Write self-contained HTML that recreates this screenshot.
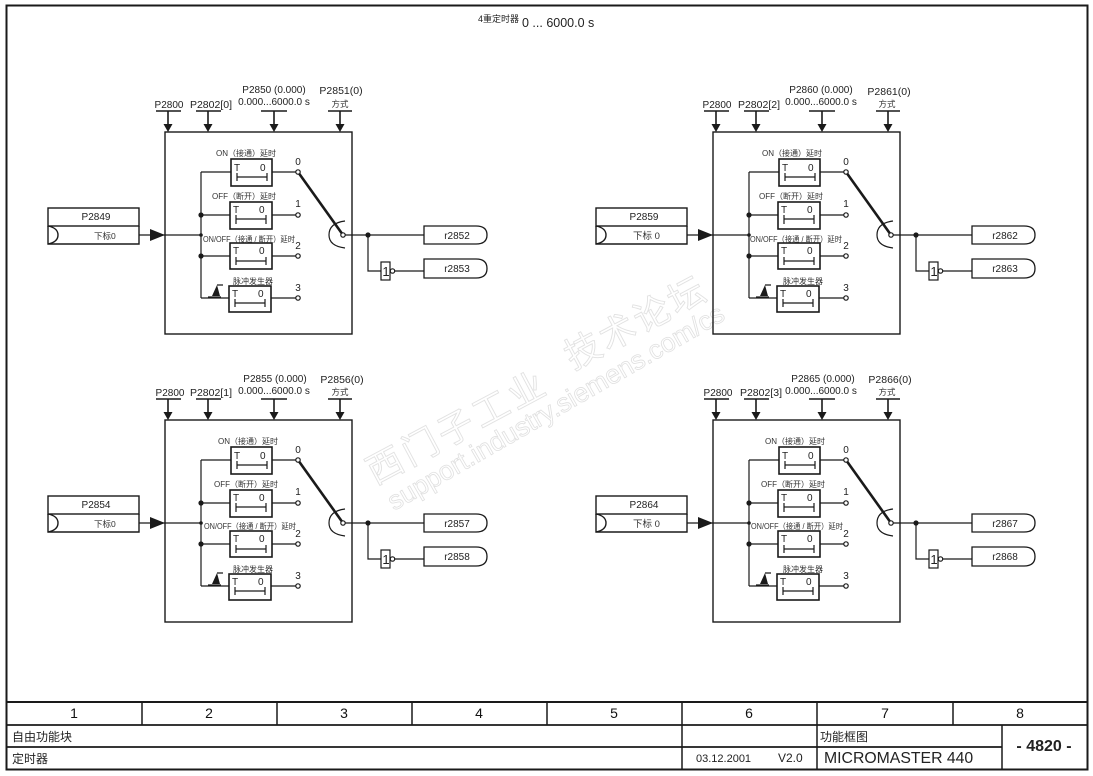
<!DOCTYPE html>
<html><head><meta charset="utf-8">
<style>
html,body{margin:0;padding:0;background:#fff}
svg{display:block}
text{font-family:"Liberation Sans","Noto Sans CJK SC",sans-serif;fill:#222;font-size:10px}
.c{text-anchor:middle}
.s{font-size:8.5px;fill:#333}
.l{font-size:8px;fill:#333}
.m{font-size:10px}
.p{font-size:10.5px}
.n{font-size:14px;fill:#111;text-anchor:middle}
.f{font-size:12px;fill:#222}
</style></head><body>
<svg width="1093" height="776" viewBox="0 0 1093 776" xmlns="http://www.w3.org/2000/svg">
<defs>
<g id="block" fill="none" stroke="#1a1a1a" stroke-width="1.2">
<rect x="165" y="132" width="187" height="202" stroke-width="1.4"/>
<g stroke-width="1.6">
<path d="M156 111H181M196 111H221M261 111H287M328 111H352"/>
<path d="M168 111V125M208 111V125M274 111V125M340 111V125"/>
</g>
<g fill="#1a1a1a" stroke="none">
<path d="M163.500 124H172.500L168 132ZM203.500 124H212.500L208 132ZM269.500 124H278.500L274 132ZM335.500 124H344.500L340 132Z"/>
<path d="M150 229L165 235L150 241Z"/>
<circle cx="201" cy="215" r="2.600"/><circle cx="201" cy="256" r="2.600"/><circle cx="201" cy="235" r="1.800"/><circle cx="368" cy="235" r="2.600"/>
<path d="M212 296L217 285L220 296Z"/>
</g>
<rect x="48" y="208" width="91" height="18" stroke-width="1.400"/>
<path d="M48 226V244H139V226" stroke-width="1.400"/>
<path d="M48 226Q58 228 58 235Q58 242 48 244" stroke-width="1.400"/>
<path d="M139 235H201M201 172V298M201 172H231M201 215H230M201 256H230M201 298H229M272 172H296M272 215H296M272 256H296M271 298H296"/>
<path d="M208 297H221M217 285H223"/>
<g stroke-width="1.600" fill="#fff">
<rect x="231" y="159" width="41" height="27"/>
<rect x="230" y="202" width="42" height="27"/>
<rect x="230" y="243" width="42" height="26"/>
<rect x="229" y="286" width="42" height="26"/>
</g>
<path d="M237 177H267M237 173V181M267 173V181M236 219H266M236 215V224M266 215V224M236 261H266M236 257V265M266 257V265M235 303H265M235 299V307M265 299V307"/>
<path d="M298 172L343 235" stroke-width="2.600"/>
<circle cx="298" cy="172" r="2.200" fill="#fff"/><circle cx="298" cy="215" r="2.200" fill="#fff"/><circle cx="298" cy="256" r="2.200" fill="#fff"/><circle cx="298" cy="298" r="2.200" fill="#fff"/>
<path d="M345 221Q329 223 329 235Q329 246 345 248" stroke-width="1.200"/>
<circle cx="343" cy="235" r="2.200" fill="#fff"/>
<path d="M345 235H424M368 235V271H381M395 271H424"/>
<rect x="381" y="262" width="9" height="18" stroke-width="1.200" fill="#fff"/>
<circle cx="392.500" cy="271" r="2.200" fill="#fff"/>
<path d="M424 226H476Q487 226 487 235Q487 244 476 244H424Z" stroke-width="1.300" fill="#fff"/>
<path d="M424 259H476Q487 259 487 268.500Q487 278 476 278H424Z" stroke-width="1.300" fill="#fff"/>
</g>
<g id="inner">
<text class="m" x="234" y="171">T</text><text class="m" x="260" y="171">0</text>
<text class="m" x="233" y="213">T</text><text class="m" x="259" y="213">0</text>
<text class="m" x="233" y="254">T</text><text class="m" x="259" y="254">0</text>
<text class="m" x="232" y="297">T</text><text class="m" x="258" y="297">0</text>
<text class="m c" x="298" y="165">0</text><text class="m c" x="298" y="207">1</text><text class="m c" x="298" y="249">2</text><text class="m c" x="298" y="291">3</text>
<text class="f" x="386" y="276" text-anchor="middle" style="font-size:13px">1</text>
</g>
</defs>

<!-- watermark -->
<text transform="translate(375,485) rotate(-28)" style="font-size:36px;fill:#fff;stroke:#e2e2e2;stroke-width:.9;letter-spacing:4px">西门子工业</text>
<text transform="translate(573,370) rotate(-28)" style="font-size:36px;fill:#fff;stroke:#e2e2e2;stroke-width:.9;letter-spacing:3px">技术论坛</text>
<text transform="translate(394,511) rotate(-30)" style="font-size:26.500px;fill:#fff;stroke:#e0e0e0;stroke-width:.8">support.industry.siemens.com/cs</text>

<text x="478" y="22" style="font-size:9px">4重定时器</text><text x="522" y="27" style="font-size:12.500px">0 ... 6000.0 s</text>

<use href="#block"/><use href="#inner"/>
<text class="m c" x="169" y="108">P2800</text><text class="p c" x="211" y="108">P2802[0]</text>
<text class="m c" x="274" y="93">P2850 (0.000)</text><text class="m c" x="274" y="105">0.000...6000.0 s</text>
<text class="p c" x="341" y="94">P2851(0)</text><text class="s c" x="340" y="107">方式</text>
<text class="m c" x="96" y="220">P2849</text><text class="s" x="94" y="239">下标0</text>
<text class="l c" x="246" y="156">ON（接通）延时</text><text class="l c" x="244" y="199">OFF（断开）延时</text>
<text class="l" x="203" y="242" textLength="92" lengthAdjust="spacingAndGlyphs">ON/OFF（接通 / 断开）延时</text><text class="l c" x="253" y="284">脉冲发生器</text>
<text class="m c" x="457" y="239">r2852</text><text class="m c" x="457" y="272">r2853</text>

<g transform="translate(548,0)"><use href="#block"/><use href="#inner"/>
<text class="m c" x="169" y="108">P2800</text><text class="p c" x="211" y="108">P2802[2]</text>
<text class="m c" x="273" y="93">P2860 (0.000)</text><text class="m c" x="273" y="105">0.000...6000.0 s</text>
<text class="p c" x="341" y="95">P2861(0)</text><text class="s c" x="339" y="107">方式</text>
<text class="m c" x="96" y="220">P2859</text><text class="s" x="85" y="239" style="font-size:9.500px">下标 0</text>
<text class="l c" x="244" y="156">ON（接通）延时</text><text class="l c" x="243" y="199">OFF（断开）延时</text>
<text class="l" x="202" y="242" textLength="92" lengthAdjust="spacingAndGlyphs">ON/OFF（接通 / 断开）延时</text><text class="l c" x="255" y="284">脉冲发生器</text>
<text class="m c" x="457" y="239">r2862</text><text class="m c" x="457" y="272">r2863</text></g>

<g transform="translate(0,288)"><use href="#block"/><use href="#inner"/>
<text class="m c" x="170" y="108">P2800</text><text class="p c" x="211" y="108">P2802[1]</text>
<text class="m c" x="275" y="94">P2855 (0.000)</text><text class="m c" x="274" y="106">0.000...6000.0 s</text>
<text class="p c" x="342" y="95">P2856(0)</text><text class="s c" x="340" y="107">方式</text>
<text class="m c" x="96" y="220">P2854</text><text class="s" x="94" y="239">下标0</text>
<text class="l c" x="248" y="156">ON（接通）延时</text><text class="l c" x="246" y="199">OFF（断开）延时</text>
<text class="l" x="204" y="241" textLength="92" lengthAdjust="spacingAndGlyphs">ON/OFF（接通 / 断开）延时</text><text class="l c" x="253" y="284">脉冲发生器</text>
<text class="m c" x="457" y="239">r2857</text><text class="m c" x="457" y="272">r2858</text></g>

<g transform="translate(548,288)"><use href="#block"/><use href="#inner"/>
<text class="m c" x="170" y="108">P2800</text><text class="p c" x="213" y="108">P2802[3]</text>
<text class="m c" x="275" y="94">P2865 (0.000)</text><text class="m c" x="273" y="106">0.000...6000.0 s</text>
<text class="p c" x="342" y="95">P2866(0)</text><text class="s c" x="339" y="107">方式</text>
<text class="m c" x="96" y="220">P2864</text><text class="s" x="85" y="239" style="font-size:9.500px">下标 0</text>
<text class="l c" x="247" y="156">ON（接通）延时</text><text class="l c" x="245" y="199">OFF（断开）延时</text>
<text class="l" x="203" y="241" textLength="92" lengthAdjust="spacingAndGlyphs">ON/OFF（接通 / 断开）延时</text><text class="l c" x="255" y="284">脉冲发生器</text>
<text class="m c" x="457" y="239">r2867</text><text class="m c" x="457" y="272">r2868</text></g>

<!-- frame and title block -->
<g fill="none" stroke="#1a1a1a">
<rect x="6.500" y="5.500" width="1081" height="764" stroke-width="2"/>
<path d="M6 702H1088" stroke-width="2"/>
<path d="M6 725H1088M6 747H1002" stroke-width="1.800"/>
<path d="M142 702V725M277 702V725M412 702V725M547 702V725M953 702V725" stroke-width="1.500"/>
<path d="M682 702V770M817 702V770M1002 725V770" stroke-width="1.500"/>
</g>
<text class="n" x="74" y="718">1</text><text class="n" x="209" y="718">2</text><text class="n" x="344" y="718">3</text><text class="n" x="479" y="718">4</text>
<text class="n" x="614" y="718">5</text><text class="n" x="749" y="718">6</text><text class="n" x="885" y="718">7</text><text class="n" x="1020" y="718">8</text>
<text class="f" x="12" y="741">自由功能块</text>
<text class="f" x="12" y="763">定时器</text>
<text class="f" x="820" y="741">功能框图</text>
<text x="696" y="762" style="font-size:11px">03.12.2001</text><text x="778" y="762" style="font-size:12px">V2.0</text>
<text x="824" y="763" style="font-size:15.800px">MICROMASTER 440</text>
<text x="1044" y="751" text-anchor="middle" style="font-size:16px;font-weight:bold">- 4820 -</text>
</svg>
</body></html>
